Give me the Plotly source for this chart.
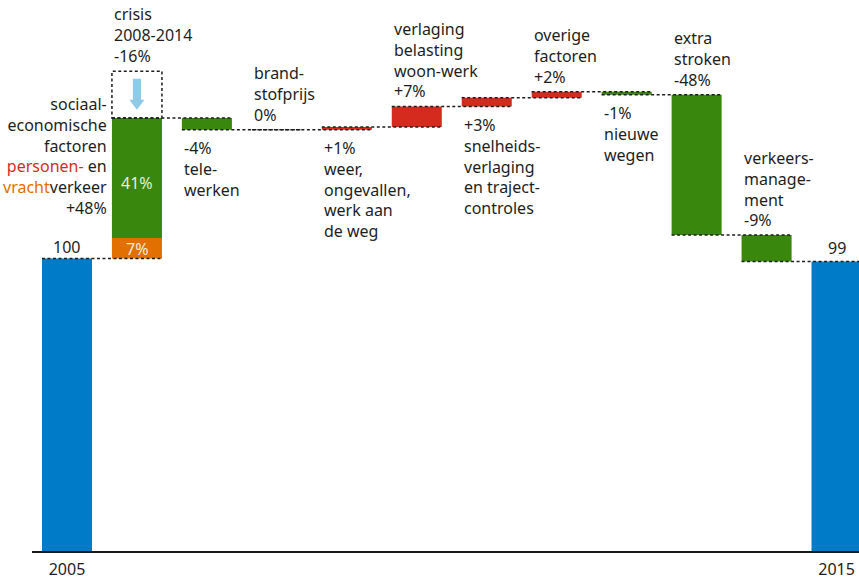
import plotly.graph_objects as go

# Reistijdverlies hoofdwegennet: index 2005 = 100, bijdragen per factor (procentpunten)
start_year = "2005"
end_year = "2015"
start_value = 100
end_value = 99

step_names = [
    "sociaal-economische factoren",
    "telewerken",
    "brandstofprijs",
    "weer, ongevallen, werk aan de weg",
    "verlaging belasting woon-werk",
    "snelheidsverlaging en trajectcontroles",
    "overige factoren",
    "nieuwe wegen",
    "extra stroken",
    "verkeersmanagement",
]
step_values = [48, -4, 0, 1, 7, 3, 2, -1, -48, -9]

# split of the socio-economic growth into freight and passenger traffic
vracht_value = 7
personen_value = 41
crisis_value = -16

step_texts = [
    None,
    "-4%<br>tele-<br>werken",
    "brand-<br>stofprijs<br>0%",
    "+1%<br>weer,<br>ongevallen,<br>werk aan<br>de weg",
    "verlaging<br>belasting<br>woon-werk<br>+7%",
    "+3%<br>snelheids-<br>verlaging<br>en traject-<br>controles",
    "overige<br>factoren<br>+2%",
    "-1%<br>nieuwe<br>wegen",
    "extra<br>stroken<br>-48%",
    "verkeers-<br>manage-<br>ment<br>-9%",
]
# whether the label sits above (True) or below (False) the step
label_above = [None, False, True, False, True, False, True, False, True, True]

BLUE = "#007bc7"
GREEN = "#39870c"
RED = "#d52b1e"
ORANGE = "#e17000"
LIGHTBLUE = "#8fcae7"
TEXT = "#1e1e1e"
FONT = "Noto Sans"
FS = 16
BAR_W = 0.715

n_steps = len(step_values)
x_end = n_steps + 1

# running levels before/after each step
levels = [start_value]
for v in step_values:
    levels.append(levels[-1] + v)

fig = go.Figure()

# start / end totals
fig.add_trace(go.Bar(x=[0, x_end], y=[start_value, end_value], base=[0, 0],
                     width=BAR_W, marker=dict(color=BLUE, line=dict(width=0)),
                     hoverinfo="skip"))

# socio-economic step split into freight (orange) and passenger (green)
fig.add_trace(go.Bar(x=[1], y=[vracht_value], base=[levels[0]], width=BAR_W,
                     marker=dict(color=ORANGE, line=dict(width=0)), hoverinfo="skip"))
fig.add_trace(go.Bar(x=[1], y=[personen_value], base=[levels[0] + vracht_value], width=BAR_W,
                     marker=dict(color=GREEN, line=dict(width=0)), hoverinfo="skip"))

# remaining steps
for i in range(1, n_steps):
    v = step_values[i]
    if v == 0:
        continue
    lo = min(levels[i], levels[i + 1])
    fig.add_trace(go.Bar(x=[i + 1], y=[abs(v)], base=[lo], width=BAR_W,
                         marker=dict(color=RED if v > 0 else GREEN, line=dict(width=0)),
                         hoverinfo="skip"))

shapes = []
dot = dict(color=TEXT, width=1.5, dash="3px,2.5px")

# connectors: from the left edge of one bar to the right edge of the next
for i in range(n_steps + 1):
    shapes.append(dict(type="line", xref="x", yref="y",
                       x0=i - BAR_W / 2, x1=i + 1 + BAR_W / 2,
                       y0=levels[i], y1=levels[i], line=dot, layer="above"))

# crisis box on top of the socio-economic bar
crisis_lo = levels[1]
crisis_hi = levels[1] - crisis_value
shapes.append(dict(type="rect", xref="x", yref="y",
                   x0=1 - BAR_W / 2, x1=1 + BAR_W / 2, y0=crisis_lo, y1=crisis_hi,
                   line=dot, fillcolor="rgba(0,0,0,0)", layer="above"))

# downward arrow inside the crisis box
h = crisis_hi - crisis_lo
a_top = crisis_lo + 0.84 * h
a_neck = crisis_lo + 0.39 * h
a_tip = crisis_lo + 0.18 * h
sw, hw = 0.058, 0.108
path = (f"M {1 - sw},{a_top} L {1 + sw},{a_top} L {1 + sw},{a_neck} "
        f"L {1 + hw},{a_neck} L 1,{a_tip} L {1 - hw},{a_neck} L {1 - sw},{a_neck} Z")
shapes.append(dict(type="path", xref="x", yref="y", path=path,
                   fillcolor=LIGHTBLUE, line=dict(width=0), layer="above"))

annotations = []


def note(text, x, y, xanchor="left", yanchor="bottom", yshift=0, xshift=0,
         align="left", color=TEXT):
    annotations.append(dict(text=text, x=x, y=y, xref="x", yref="y",
                            xanchor=xanchor, yanchor=yanchor, yshift=yshift,
                            xshift=xshift, align=align, showarrow=False,
                            font=dict(family=FONT, size=FS, color=color)))


# totals
note(str(start_value), 0, start_value, xanchor="center", yshift=-1)
note(str(end_value), x_end, end_value, xanchor="center", yshift=0)

# crisis label
note(f"crisis<br>2008-2014<br>{crisis_value}%", 1 - BAR_W / 2, crisis_hi, yshift=2)

# socio-economic label with coloured words
socio_text = ("sociaal-<br>economische<br>factoren<br>"
              f"<span style='color:{RED}'>personen-</span> en<br>"
              f"<span style='color:{ORANGE}'>vracht</span>verkeer<br>"
              f"+{step_values[0]}%")
note(socio_text, 1 - BAR_W / 2, levels[1] - 13, xanchor="right", yanchor="middle",
     xshift=-3, align="right")

# values inside the split bar
note(f"{personen_value}%", 1, levels[0] + vracht_value + personen_value / 2,
     xanchor="center", yanchor="middle", yshift=-5, color="#e6eedf")
note(f"{vracht_value}%", 1, levels[0] + vracht_value / 2,
     xanchor="center", yanchor="middle", yshift=-1, color="#f6eadf")

# step labels
for i in range(1, n_steps):
    hi = max(levels[i], levels[i + 1])
    lo = min(levels[i], levels[i + 1])
    if label_above[i]:
        note(step_texts[i], i + 1 - BAR_W / 2, hi, yanchor="bottom", yshift=2)
    else:
        note(step_texts[i], i + 1 - BAR_W / 2, lo, yanchor="top", yshift=-5.5)

px_per_unit = 69.96
plot_w = 827
plot_h = 551

fig.update_layout(
    width=859, height=579,
    margin=dict(l=32, r=0, t=0, b=28, pad=0, autoexpand=False),
    paper_bgcolor="white", plot_bgcolor="white",
    showlegend=False, barmode="overlay",
    font=dict(family=FONT, size=FS, color=TEXT),
    xaxis=dict(range=[-0.5, -0.5 + plot_w / px_per_unit], showgrid=False,
               zeroline=False, tickmode="array", tickvals=[0, x_end],
               ticktext=[start_year, end_year], ticks="", ticklabelstandoff=3,
               tickfont=dict(family=FONT, size=FS, color=TEXT), automargin=False,
               showline=True, linecolor="#1a1a1a", linewidth=2, fixedrange=True),
    yaxis=dict(range=[0, plot_h / 2.925], showgrid=False, zeroline=False,
               showticklabels=False, ticks="", showline=False, fixedrange=True,
               automargin=False),
    shapes=shapes,
    annotations=annotations,
)

fig.write_html("out.html", config={"displayModeBar": False})
